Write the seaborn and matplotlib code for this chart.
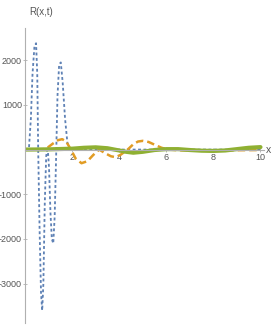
import matplotlib
matplotlib.use("Agg")
import matplotlib.pyplot as plt
from matplotlib.ticker import MultipleLocator
import seaborn as sns

# values
blue_x = [0, 0.1, 0.17, 0.25, 0.32, 0.4, 0.47, 0.52, 0.56, 0.62, 0.68, 0.73, 0.78,
          0.84, 0.9, 0.96, 1.02, 1.08, 1.14, 1.2, 1.26, 1.32, 1.38, 1.45, 1.52,
          1.6, 1.7, 1.8, 1.9, 2.0, 3, 4, 5, 6, 7, 8, 9, 10]
blue_y = [0, 0, 50, 700, 1700, 2300, 2380, 1700, 0, -1800, -3200, -3600, -3000,
          -1200, -150, 60, -400, -1400, -2000, -2100, -1500, -200, 1200, 1900, 1950,
          1500, 700, 150, 20, 0, 0, 0, 0, 0, 0, 0, 0, 0]

orange_x = [0, 0.5, 0.8, 1.0, 1.2, 1.4, 1.58, 1.75, 1.95, 2.15, 2.4, 2.65, 2.9,
            3.15, 3.4, 3.65, 3.85, 4.05, 4.36, 4.6, 4.8, 5.0, 5.25, 5.5, 5.8,
            6.1, 6.5, 7, 8, 9, 10]
orange_y = [0, 0, 10, 60, 140, 210, 233, 180, 0, -200, -305, -260, -120,
            0, -80, -150, -170, -120, 0, 120, 180, 195, 170, 110, 40,
            0, -15, -20, -20, -15, -10]

green_x = [0, 1, 2, 2.5, 3, 3.5, 4, 4.3, 4.6, 5, 5.5, 6, 6.5, 7, 7.5, 8, 8.5, 9, 9.5, 10]
green_y = [0, 5, 20, 40, 50, 30, -20, -50, -70, -50, -10, 10, 10, -10, -25, -30, -20, 10, 40, 55]

x_ticks = [2, 4, 6, 8, 10]
y_ticks = [-3000, -2000, -1000, 1000, 2000]

sns.set_style("white")
plt.rcParams["font.family"] = ["Liberation Sans", "DejaVu Sans"]
plt.rcParams["axes.unicode_minus"] = False

fig = plt.figure(figsize=(2.73, 3.27), dpi=100)
ax = fig.add_axes([25 / 273, 4 / 327, 239 / 273, 295 / 327])

sns.lineplot(x=blue_x, y=blue_y, ax=ax, color="#5e81b5", lw=1.3, sort=False)
ax.lines[-1].set_dashes((1.6, 1.4))
sns.lineplot(x=orange_x, y=orange_y, ax=ax, color="#e19c24", lw=1.8, sort=False)
ax.lines[-1].set_dashes((3, 1.6))
sns.lineplot(x=green_x, y=green_y, ax=ax, color="#8fb032", lw=3.0, sort=False)

ax.set_xlim(0, 10.15)
ax.set_ylim(-3880, 2720)
ax.spines["left"].set_position("zero")
ax.spines["bottom"].set_position("zero")
ax.spines["right"].set_visible(False)
ax.spines["top"].set_visible(False)
for s in ("left", "bottom"):
    ax.spines[s].set_color("#b0b0b0")
    ax.spines[s].set_linewidth(0.8)

ax.set_xticks(x_ticks)
ax.set_yticks(y_ticks)
ax.xaxis.set_minor_locator(MultipleLocator(0.5))
ax.yaxis.set_minor_locator(MultipleLocator(200))
ax.tick_params(which="major", direction="inout", length=3.5, width=0.6,
               color="#b0b0b0", labelsize=6.5, labelcolor="#555555", pad=0.5)
ax.tick_params(which="minor", direction="inout", length=2, width=0.5,
               color="#c8c8c8")
ax.tick_params(axis="x", bottom=True)
ax.tick_params(axis="y", left=True)

fig.text(29 / 273, 1 - 12 / 327, "R(x,t)", fontsize=7, color="#555555", va="center")
fig.text(266 / 273, 1 - 150 / 327, "x", fontsize=7.5, color="#555555", va="center")

fig.savefig("out.png", dpi=100)
